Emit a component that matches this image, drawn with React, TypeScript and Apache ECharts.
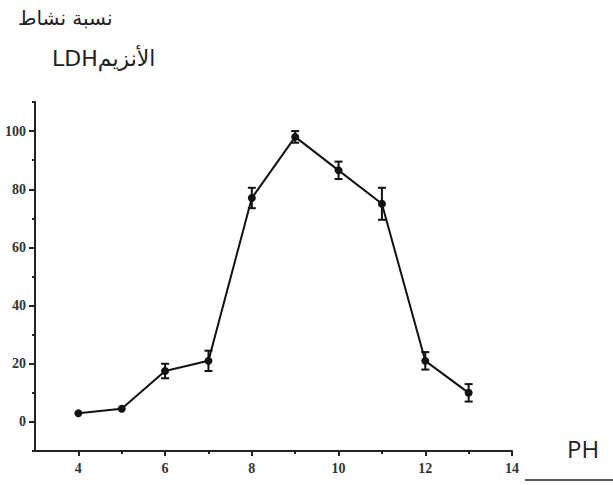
import React, { useEffect, useRef } from "react";
import * as echarts from "echarts";

const phValues = [4, 5, 6, 7, 8, 9, 10, 11, 12, 13];
const activity = [3, 4.5, 17.5, 21, 77, 98, 86.5, 75, 21, 10];
const errors = [0, 0, 2.5, 3.5, 3.5, 2, 3, 5.5, 3, 3];
const xLabelTicks = [4, 6, 8, 10, 12, 14];
const xMinorTicks = [5, 7, 9, 11, 13];
const yLabelTicks = [0, 20, 40, 60, 80, 100];
const yMinorTicks = [-10, 10, 30, 50, 70, 90, 110];
const titleLine1 = "نسبة نشاط";
const titleLine2 = "LDHالأنزيم";
const xName = "PH";

export default function App() {
  const ref = useRef<HTMLDivElement>(null);
  useEffect(() => {
    if (!ref.current) return;
    const chart = echarts.init(ref.current, null, { renderer: "svg" });
    const axisFont = {
      fontFamily: "Liberation Serif",
      fontWeight: "bold" as const,
      fontSize: 14,
      color: "#333",
    };
    const lineStyle = { color: "#222", width: 2 };
    const points = phValues.map((x, i) => [x, activity[i]]);
    const errData = phValues.map((x, i) => [x, activity[i] - errors[i], activity[i] + errors[i]]);
    chart.setOption({
      animation: false,
      grid: { left: 35, right: 101, top: 102, bottom: 34, containLabel: false },
      xAxis: [
        {
          type: "value",
          min: 3,
          max: 14,
          axisLine: { onZero: false, lineStyle },
          axisTick: { show: true, customValues: xLabelTicks, length: 5, lineStyle },
          axisLabel: { customValues: xLabelTicks, ...axisFont, margin: 10 },
          splitLine: { show: false },
        },
        {
          type: "value",
          min: 3,
          max: 14,
          position: "bottom",
          axisLine: { show: false, onZero: false },
          axisTick: { show: true, customValues: xMinorTicks, length: 3, lineStyle },
          axisLabel: { show: false },
          splitLine: { show: false },
        },
      ],
      yAxis: [
        {
          type: "value",
          min: -10,
          max: 110,
          axisLine: { show: true, onZero: false, lineStyle },
          axisTick: { show: true, customValues: yLabelTicks, length: 6, lineStyle },
          axisLabel: { customValues: yLabelTicks, ...axisFont, margin: 9 },
          splitLine: { show: false },
        },
        {
          type: "value",
          min: -10,
          max: 110,
          position: "left",
          axisLine: { show: false, onZero: false },
          axisTick: { show: true, customValues: yMinorTicks, length: 3, lineStyle },
          axisLabel: { show: false },
          splitLine: { show: false },
        },
      ],
      graphic: [
        {
          type: "text",
          left: 18,
          top: 8,
          style: { text: titleLine1, font: "20px 'DejaVu Sans'", fill: "#222" },
        },
        {
          type: "text",
          left: 52,
          top: 47,
          style: { text: titleLine2, font: "22px 'DejaVu Sans'", fill: "#222" },
        },
        {
          type: "text",
          left: 567,
          top: 436,
          style: { text: xName, font: "24px 'Open Sans'", fill: "#222" },
        },
        {
          type: "line",
          shape: { x1: 525, y1: 480, x2: 613, y2: 480 },
          style: { stroke: "#222", lineWidth: 1.5 },
        },
      ],
      series: [
        {
          type: "line",
          data: points,
          symbol: "circle",
          symbolSize: 8,
          itemStyle: { color: "#111" },
          lineStyle: { color: "#111", width: 2 },
          z: 3,
        },
        {
          type: "custom",
          data: errData,
          z: 4,
          renderItem: (params: any, api: any) => {
            const x = api.value(0);
            const lo = api.value(1);
            const hi = api.value(2);
            if (hi === lo) return { type: "group", children: [] };
            const pLo = api.coord([x, lo]);
            const pHi = api.coord([x, hi]);
            const w = 4;
            const st = { stroke: "#111", lineWidth: 2 };
            return {
              type: "group",
              children: [
                { type: "line", shape: { x1: pLo[0], y1: pLo[1], x2: pHi[0], y2: pHi[1] }, style: st },
                { type: "line", shape: { x1: pLo[0] - w, y1: pLo[1], x2: pLo[0] + w, y2: pLo[1] }, style: st },
                { type: "line", shape: { x1: pHi[0] - w, y1: pHi[1], x2: pHi[0] + w, y2: pHi[1] }, style: st },
              ],
            };
          },
        },
      ],
    });
    return () => chart.dispose();
  }, []);
  return (
    <div
      ref={ref}
      style={{ position: "fixed", left: 0, top: 0, width: 613, height: 485, background: "#fff" }}
    />
  );
}
